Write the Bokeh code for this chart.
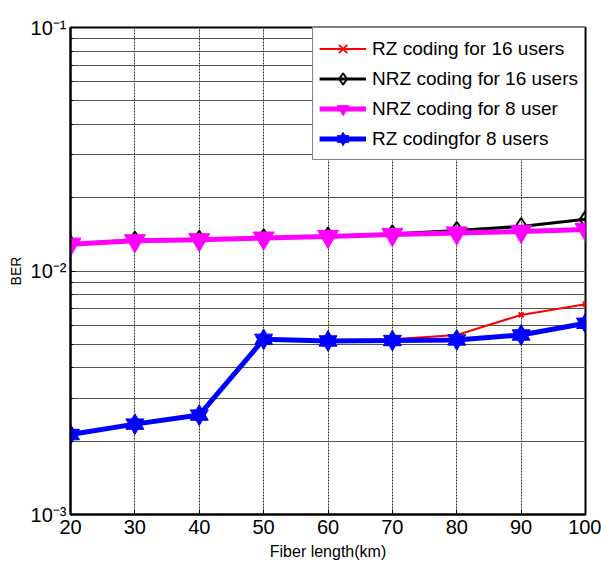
from bokeh.plotting import figure
from bokeh.models import FixedTicker, Legend, LegendItem, Range1d
from bokeh.embed import file_html
from bokeh.resources import INLINE

# ---- data ----
fiber_km = [20, 30, 40, 50, 60, 70, 80, 90, 100]
rz_16 = [0.00213, 0.00235, 0.00256, 0.00518, 0.00518, 0.00524, 0.00546, 0.00660, 0.00730]
nrz_16 = [0.0129, 0.0134, 0.0135, 0.0137, 0.0139, 0.0142, 0.01468, 0.01524, 0.0163]
nrz_8 = [0.01288, 0.01331, 0.01344, 0.01365, 0.01387, 0.01413, 0.01433, 0.01454, 0.01482]
rz_8 = [0.00213, 0.00235, 0.00256, 0.00524, 0.00516, 0.00518, 0.00521, 0.00546, 0.00610]

x_ticks = [20, 30, 40, 50, 60, 70, 80, 90, 100]
y_ticks = [0.001, 0.01, 0.1]
y_tick_labels = ["10\u207b\u00b3", "10\u207b\u00b2", "10\u207b\u00b9"]
y_minor_mantissas = [2, 3, 4, 5, 6, 7, 8, 9]
y_minor_ticks = [m * d for d in [0.001, 0.01] for m in y_minor_mantissas]

labels = ["RZ coding for 16 users", "NRZ coding for 16 users",
          "NRZ coding for 8 user", "RZ codingfor 8 users"]

FONT = "Liberation Sans"

p = figure(width=601, height=569, y_axis_type="log",
           x_range=Range1d(20, 100), y_range=Range1d(0.001, 0.1),
           output_backend="svg", toolbar_location=None,
           min_border_left=70, min_border_right=16,
           min_border_top=27, min_border_bottom=55)
p.background_fill_color = "white"
p.border_fill_color = "white"
p.outline_line_color = "black"
p.outline_line_width = 2

# axes
p.xaxis.ticker = FixedTicker(ticks=x_ticks)
p.yaxis.ticker = FixedTicker(ticks=y_ticks, minor_ticks=y_minor_ticks)
p.yaxis.major_label_overrides = {t: l for t, l in zip(y_ticks, y_tick_labels)}
for ax in (p.xaxis, p.yaxis):
    ax.axis_line_color = "black"
    ax.axis_line_width = 2
    ax.major_tick_in = 5
    ax.major_tick_out = 0
    ax.minor_tick_in = 3
    ax.minor_tick_out = 0
    ax.major_tick_line_color = "black"
    ax.minor_tick_line_color = "black"
    ax.major_label_text_font = FONT
    ax.major_label_text_font_size = "20px"
    ax.major_label_text_color = "black"
    ax.axis_label_text_font = FONT
    ax.axis_label_text_font_style = "normal"
    ax.axis_label_text_color = "black"
p.xaxis.axis_label = "Fiber length(km)"
p.xaxis.axis_label_text_font_size = "16px"
p.xaxis.major_label_standoff = 5
p.xaxis.axis_label_standoff = 6
p.yaxis.axis_label = "BER"
p.yaxis.axis_label_text_font_size = "14px"
p.yaxis.major_label_standoff = 4
p.yaxis.axis_label_standoff = 4

# grid
p.xgrid.grid_line_color = "#333333"
p.xgrid.grid_line_width = 1
p.xgrid.grid_line_dash = "2 1"
p.ygrid.grid_line_color = "#555555"
p.ygrid.grid_line_width = 1
p.ygrid.minor_grid_line_color = "#555555"
p.ygrid.minor_grid_line_width = 1

# series (draw order: red, black, magenta, blue)
r1 = p.line(fiber_km, rz_16, line_color="red", line_width=2)
r1m = p.scatter(fiber_km, rz_16, marker="x", size=7, line_color="red", line_width=2)

r2 = p.line(fiber_km, nrz_16, line_color="black", line_width=3)
r2m = p.scatter(fiber_km, nrz_16, marker="diamond", size=17, line_color="black",
                fill_alpha=0, line_width=2)

r3 = p.line(fiber_km, nrz_8, line_color="magenta", line_width=5)
r3m = p.scatter(fiber_km, nrz_8, marker="inverted_triangle", size=21,
                line_color="magenta", fill_color="magenta")

r4 = p.line(fiber_km, rz_8, line_color="blue", line_width=5)
r4a = p.scatter(fiber_km, rz_8, marker="triangle", size=18,
                line_color="blue", fill_color="blue")
r4b = p.scatter(fiber_km, rz_8, marker="inverted_triangle", size=18,
                line_color="blue", fill_color="blue")

legend = Legend(items=[
    LegendItem(label=labels[0], renderers=[r1, r1m]),
    LegendItem(label=labels[1], renderers=[r2, r2m]),
    LegendItem(label=labels[2], renderers=[r3, r3m]),
    LegendItem(label=labels[3], renderers=[r4, r4a, r4b]),
], location="top_right")
legend.margin = 0
legend.padding = 6
legend.spacing = 1
legend.glyph_width = 47
legend.glyph_height = 29
legend.label_height = 29
legend.label_standoff = 6
legend.label_text_font = FONT
legend.label_text_font_size = "19px"
legend.label_text_color = "black"
legend.border_line_color = "black"
legend.border_line_width = 1
legend.background_fill_color = "white"
legend.background_fill_alpha = 1
p.add_layout(legend)

open("out.html", "w").write(file_html(p, INLINE))
